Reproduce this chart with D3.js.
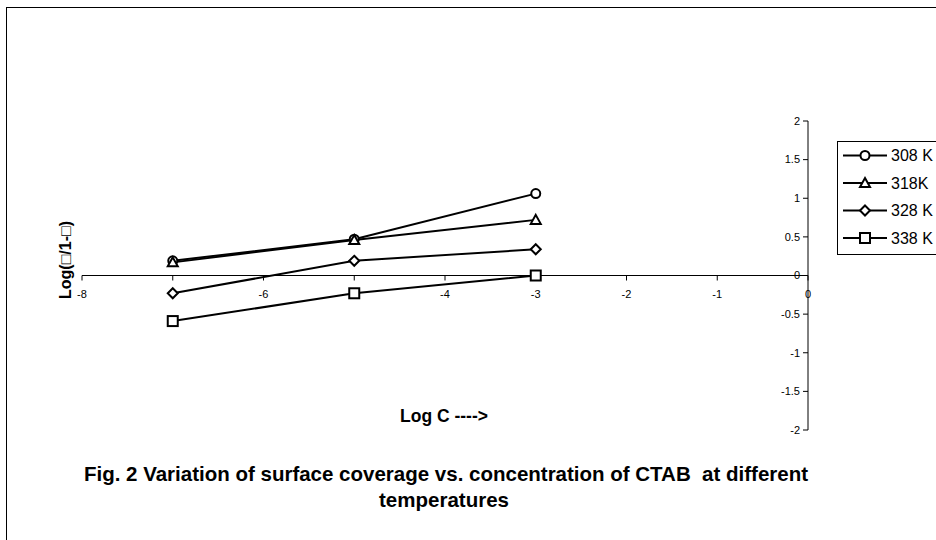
<!DOCTYPE html>
<html><head><meta charset="utf-8">
<script src="https://cdn.jsdelivr.net/npm/d3@7"></script>
<style>body{margin:0;background:#fff}svg{display:block;font-family:"Liberation Sans",Arial,sans-serif}</style>
</head><body>
<svg id="c" width="936" height="540"></svg>
<script>
const logC = [-7, -5, -3];
const s308 = [0.19, 0.47, 1.06];
const s318 = [0.17, 0.46, 0.72];
const s328 = [-0.23, 0.19, 0.34];
const s338 = [-0.59, -0.23, 0.0];
const seriesNames = ["308 K", "318K", "328 K", "338 K"];
const seriesSymbols = ["circle", "triangle", "diamond", "square"];
const xTicks = [-8, -7, -6, -5, -4, -3, -2, -1, 0];
const xTickLabels = ["-8", "", "-6", "", "-4", "-3", "-2", "-1", "0"];
const yTicks = [-2, -1.5, -1, -0.5, 0, 0.5, 1, 1.5, 2];
const yTickLabels = ["-2", "-1.5", "-1", "-0.5", "0", "0.5", "1", "1.5", "2"];
const series = [s308, s318, s328, s338];

const svg = d3.select("#c");
svg.append("rect").attr("x", 6.5).attr("y", 7.5).attr("width", 960).attr("height", 600)
  .attr("fill", "#fff").attr("stroke", "#000").attr("stroke-width", 1);

const x = d3.scaleLinear().domain([-8, 0]).range([82, 808]);
const y = d3.scaleLinear().domain([-2, 2]).range([430, 121]);

// x axis at y=0
const xa = svg.append("g").attr("transform", `translate(0,${y(0)})`);
xa.append("line").attr("x1", x(-8)).attr("x2", x(0)).attr("stroke", "#000");
xTicks.forEach((t, i) => {
  xa.append("line").attr("x1", x(t)).attr("x2", x(t)).attr("y1", 0).attr("y2", 5).attr("stroke", "#000");
  xa.append("text").attr("x", x(t)).attr("y", 22).attr("text-anchor", "middle")
    .attr("font-size", 11).text(xTickLabels[i]);
});

// y axis at x=0
const ya = svg.append("g").attr("transform", `translate(${x(0)},0)`);
ya.append("line").attr("y1", y(-2)).attr("y2", y(2)).attr("stroke", "#000");
yTicks.forEach((t, i) => {
  ya.append("line").attr("x1", -5).attr("x2", 0).attr("y1", y(t)).attr("y2", y(t)).attr("stroke", "#000");
  ya.append("text").attr("x", -8).attr("y", y(t)).attr("dy", "0.35em").attr("text-anchor", "end")
    .attr("font-size", 11).text(yTickLabels[i]);
});

const line = d3.line().x((d, i) => x(logC[i])).y(d => y(d));
function drawSymbol(g, type, cx, cy) {
  const st = {fill: "#fff", stroke: "#000", "stroke-width": 2};
  let el;
  if (type === "circle") el = g.append("circle").attr("cx", cx).attr("cy", cy).attr("r", 4.5);
  else if (type === "square") el = g.append("rect").attr("x", cx - 5).attr("y", cy - 5).attr("width", 10).attr("height", 10);
  else if (type === "triangle") el = g.append("path").attr("d", `M${cx},${cy - 5}L${cx + 5},${cy + 4}L${cx - 5},${cy + 4}Z`);
  else el = g.append("path").attr("d", `M${cx},${cy - 5}L${cx + 5},${cy}L${cx},${cy + 5}L${cx - 5},${cy}Z`);
  Object.entries(st).forEach(([k, v]) => el.attr(k, v));
}
series.forEach((s, si) => {
  svg.append("path").datum(s).attr("d", line).attr("fill", "none").attr("stroke", "#000").attr("stroke-width", 2);
});
series.forEach((s, si) => {
  const g = svg.append("g");
  s.forEach((v, i) => drawSymbol(g, seriesSymbols[si], x(logC[i]), y(v)));
});

// legend
const lg = svg.append("g");
lg.append("rect").attr("x", 837.5).attr("y", 141.5).attr("width", 120).attr("height", 113)
  .attr("fill", "#fff").attr("stroke", "#000");
seriesNames.forEach((n, i) => {
  const yy = 155.5 + i * 27.5;
  lg.append("line").attr("x1", 843).attr("x2", 887).attr("y1", yy).attr("y2", yy).attr("stroke", "#000").attr("stroke-width", 2);
  drawSymbol(lg, seriesSymbols[i], 865, yy);
  lg.append("text").attr("x", 891).attr("y", yy).attr("dy", "0.36em").attr("font-size", 16).text(n);
});

// axis titles
svg.append("text").attr("transform", "translate(71,260) rotate(-90)").attr("text-anchor", "middle")
  .attr("font-size", 16).attr("font-weight", "bold").text("Log(\u25A1/1-\u25A1)");
svg.append("text").attr("x", 444).attr("y", 422).attr("text-anchor", "middle")
  .attr("font-size", 17.5).attr("font-weight", "bold").text("Log C ---->");
svg.append("text").attr("x", 446).attr("y", 481).attr("text-anchor", "middle").attr("xml:space", "preserve")
  .attr("font-size", 20.5).attr("font-weight", "bold").text("Fig. 2 Variation of surface coverage vs. concentration of CTAB  at different");
svg.append("text").attr("x", 444).attr("y", 507).attr("text-anchor", "middle")
  .attr("font-size", 20.5).attr("font-weight", "bold").text("temperatures");
</script>
</body></html>
